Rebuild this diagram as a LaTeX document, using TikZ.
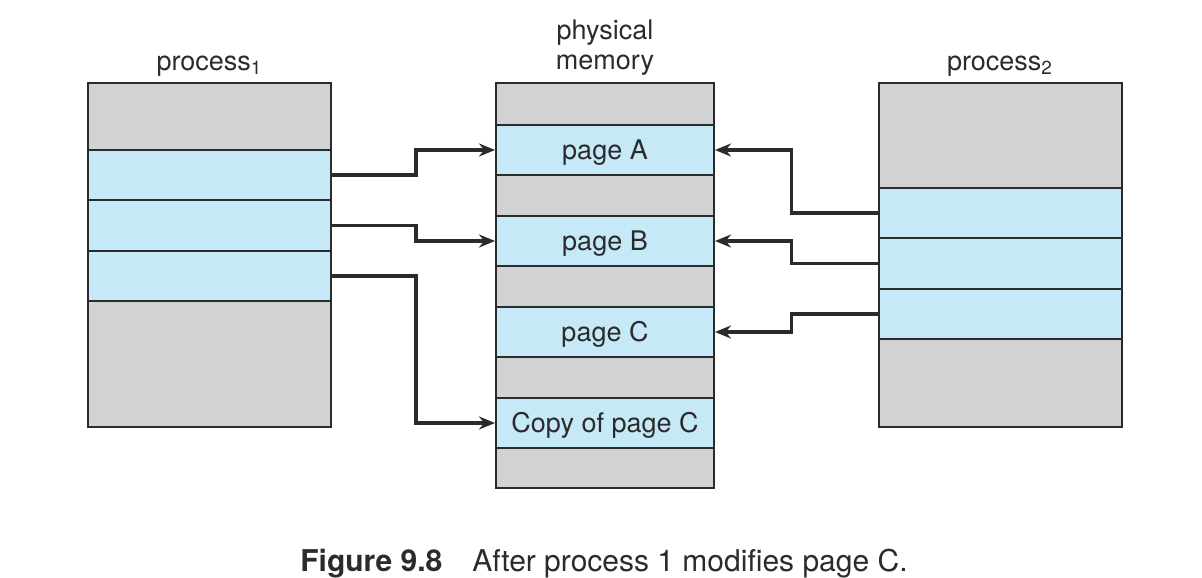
\documentclass[tikz,border=0pt]{standalone}
\usepackage{fontspec}
\setmainfont{TeX Gyre Heros}
\usetikzlibrary{arrows.meta}
\definecolor{cellgray}{HTML}{D1D2D4}
\definecolor{cellblue}{HTML}{C6E9F8}
\definecolor{ink}{HTML}{2B2B2B}

\begin{document}
\begin{tikzpicture}[x=0.5pt,y=-0.5pt,>={Stealth[length=8pt,width=6.5pt]},
  font=\fontsize{13.5}{15}\selectfont,
  cell/.style={draw=ink,line width=1pt,inner sep=0pt,align=center,text=ink,
               text height=9.7pt,text depth=0pt},
  pside/.style={cell,minimum width=121.5pt},
  mem/.style={cell,minimum width=109pt},
  free/.style={fill=cellgray},
  used/.style={fill=cellblue},
  link/.style={->,draw=ink,line width=1.6pt}]
\useasboundingbox (0,0) rectangle (1202,577);
% process 1
\node[pside,free,minimum height=33.5pt] (p1top) at (209.5,116.5) {};
\node[pside,free,minimum height=63pt] (p1bot) at (209.5,364) {};
\node[pside,used,minimum height=25pt] (p1a) at (209.5,175) {};
\node[pside,used,minimum height=25.5pt] (p1b) at (209.5,225.5) {};
\node[pside,used,minimum height=25pt] (p1c) at (209.5,276) {};
\node[text=ink] (lp1) at (209.5,66) {process\textsubscript{1}};
% physical memory
\node[mem,free,minimum height=21pt] (m0) at (605,104) {};
\node[mem,free,minimum height=20.5pt] (m1) at (605,195.5) {};
\node[mem,free,minimum height=20.5pt] (m2) at (605,286.5) {};
\node[mem,free,minimum height=20.5pt] (m3) at (605,377.5) {};
\node[mem,free,minimum height=20pt] (m4) at (605,468) {};
\node[mem,used,minimum height=25pt] (pgA) at (605,150) {page A};
\node[mem,used,minimum height=25pt] (pgB) at (605,241) {page B};
\node[mem,used,minimum height=25pt] (pgC) at (605,332) {page C};
\node[mem,used,minimum height=25pt] (pgCc) at (605,423) {Copy of page C};
\node[text=ink,align=center] (lmem) at (605,48) {physical\\memory};
% process 2
\node[pside,free,minimum height=52.5pt] (p2top) at (1000,135.5) {};
\node[pside,free,minimum height=44pt] (p2bot) at (1000,383) {};
\node[pside,used,minimum height=25pt] (p2a) at (1000,213) {};
\node[pside,used,minimum height=25.5pt] (p2b) at (1000,263.5) {};
\node[pside,used,minimum height=25pt] (p2c) at (1000,314) {};
\node[text=ink] (lp2) at (1000,66) {process\textsubscript{2}};
% mappings
\draw[link] (p1a.east) -- ++(84,0) |- (pgA.west);
\draw[link] (p1b.east) -- ++(84,0) |- (pgB.west);
\draw[link] (p1c.east) -- ++(84,0) |- (pgCc.west);
\draw[link] (p2a.west) -- ++(-86,0) |- (pgA.east);
\draw[link] (p2b.west) -- ++(-86,0) |- (pgB.east);
\draw[link] (p2c.west) -- ++(-86,0) |- (pgC.east);
% caption
\node[text=ink,font=\fontsize{15}{18}\selectfont] (cap) at (604,564)
  {\textbf{Figure 9.8}\quad After process 1 modifies page C.};
\end{tikzpicture}
\end{document}
